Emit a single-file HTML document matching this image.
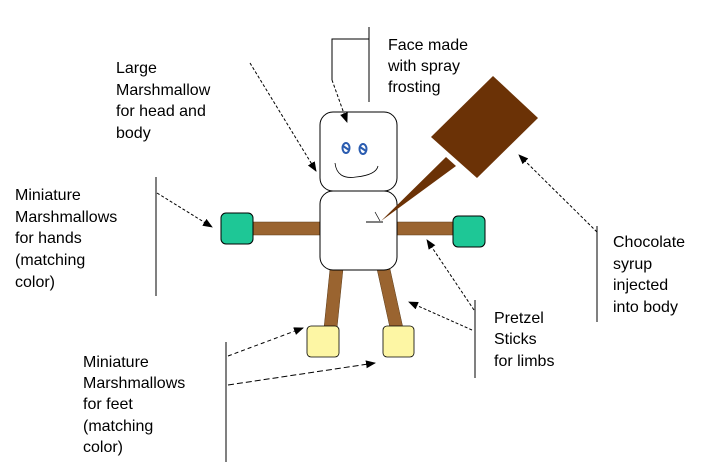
<!DOCTYPE html>
<html><head><meta charset="utf-8"><style>
html,body{margin:0;padding:0;background:#fff;width:712px;height:470px;overflow:hidden}
svg text{font-family:"Liberation Sans",sans-serif;font-size:16px;fill:#000}
</style></head><body>
<svg width="712" height="470" viewBox="0 0 712 470" xmlns="http://www.w3.org/2000/svg">
<defs><marker id="a" markerWidth="10" markerHeight="8" refX="9" refY="4" orient="auto" markerUnits="userSpaceOnUse"><path d="M0,0 L10,4 L0,8 Z" fill="#000"/></marker></defs>
<rect x="252" y="222" width="70" height="13" fill="#9a6430" stroke="#5a3a18" stroke-width="0.5"/>
<rect x="395" y="222" width="62" height="13" fill="#9a6430" stroke="#5a3a18" stroke-width="0.5"/>
<polygon points="330,269 343,269 337,328 324,328" fill="#9a6430" stroke="#5a3a18" stroke-width="0.5"/>
<polygon points="377,269 390,269 403,328 390,328" fill="#9a6430" stroke="#5a3a18" stroke-width="0.5"/>
<rect x="221" y="213" width="32" height="31" rx="5" fill="#1ec796" stroke="#000"/>
<rect x="453" y="216" width="32" height="31" rx="5" fill="#1ec796" stroke="#000"/>
<rect x="307" y="326" width="32" height="31" rx="4" fill="#fdf6a4" stroke="#000" stroke-width="0.8"/>
<rect x="383" y="326" width="31" height="31" rx="4" fill="#fdf6a4" stroke="#000" stroke-width="0.8"/>
<rect x="320" y="112" width="77" height="79" rx="13" fill="#fff" stroke="#000"/>
<rect x="320" y="191" width="77" height="79" rx="13" fill="#fff" stroke="#000"/>
<g fill="none" stroke="#2a5cb0" stroke-width="2">
<ellipse cx="346" cy="148" rx="3.5" ry="5"/><path d="M343,146 L349,150"/>
<ellipse cx="363" cy="149" rx="3.5" ry="5"/><path d="M360,147 L366,151"/>
</g>
<path d="M335,163 Q337,180 356,177 Q376,175 378,166" fill="none" stroke="#000" stroke-width="0.8"/>
<line x1="366" y1="222" x2="383" y2="222" stroke="#000"/>
<line x1="375" y1="212" x2="380" y2="221" stroke="#000" stroke-width="0.7"/>
<polygon points="493,76 538,118 477,178 431,137" fill="#6b3206"/>
<polygon points="446,157 456,166 381,221" fill="#6b3206"/>
<g stroke="#000" stroke-width="1" fill="none">
<polyline points="369,27 369,102"/>
<polyline points="369,39 332,39 332,80"/>
<line x1="332" y1="80" x2="347" y2="122" stroke-dasharray="3,2" marker-end="url(#a)"/>
<line x1="250" y1="63" x2="316" y2="171" stroke-dasharray="3,2" marker-end="url(#a)"/>
<line x1="156" y1="177" x2="156" y2="296"/>
<line x1="157" y1="193" x2="212" y2="227" stroke-dasharray="3,2" marker-end="url(#a)"/>
<line x1="597" y1="226" x2="597" y2="322"/>
<line x1="597" y1="232" x2="519" y2="155" stroke-dasharray="3,2" marker-end="url(#a)"/>
<line x1="475" y1="300" x2="475" y2="378"/>
<line x1="474" y1="310" x2="427" y2="240" stroke-dasharray="3,2" marker-end="url(#a)"/>
<line x1="472" y1="330" x2="409" y2="302" stroke-dasharray="3,2" marker-end="url(#a)"/>
<line x1="226" y1="342" x2="226" y2="462"/>
<line x1="228" y1="356" x2="303" y2="328" stroke-dasharray="4,3" marker-end="url(#a)"/>
<line x1="228" y1="385" x2="375" y2="363" stroke-dasharray="6,3" marker-end="url(#a)"/>
</g>
<text x="388" y="50">Face made</text><text x="388" y="71">with spray</text><text x="388" y="92">frosting</text>
<text x="116" y="73">Large</text><text x="116" y="95">Marshmallow</text><text x="116" y="116">for head and</text><text x="116" y="138">body</text>
<text x="15" y="200">Miniature</text><text x="15" y="222">Marshmallows</text><text x="15" y="243">for hands</text><text x="15" y="265">(matching</text><text x="15" y="287">color)</text>
<text x="613" y="247">Chocolate</text><text x="613" y="269">syrup</text><text x="613" y="290">injected</text><text x="613" y="312">into body</text>
<text x="494" y="323">Pretzel</text><text x="494" y="344">Sticks</text><text x="494" y="366">for limbs</text>
<text x="83" y="367">Miniature</text><text x="83" y="388">Marshmallows</text><text x="83" y="409">for feet</text><text x="83" y="431">(matching</text><text x="83" y="452">color)</text>
</svg>
</body></html>
